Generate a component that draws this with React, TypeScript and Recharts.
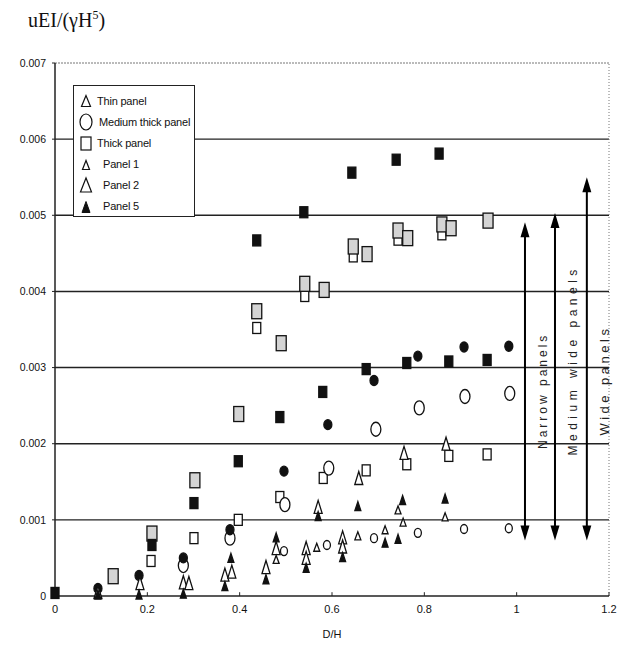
import React from "react";
import { ScatterChart, Scatter, XAxis, YAxis, ReferenceLine, Label } from "recharts";

// axis ticks
const xTicks = [0, 0.2, 0.4, 0.6, 0.8, 1, 1.2];
const yTicks = [0, 0.001, 0.002, 0.003, 0.004, 0.005, 0.006, 0.007];
const gridLevels = [0.001, 0.002, 0.003, 0.004, 0.005, 0.006];

// squares
const filledSquaresLow = [
  { x: 0, y: 0.00004 }, { x: 0.21, y: 0.00067 }, { x: 0.301, y: 0.00122 },
  { x: 0.397, y: 0.00177 }, { x: 0.487, y: 0.00235 }, { x: 0.58, y: 0.00268 },
  { x: 0.674, y: 0.00298 }, { x: 0.762, y: 0.00306 }, { x: 0.853, y: 0.00308 },
  { x: 0.936, y: 0.0031 },
];
const filledSquaresHigh = [
  { x: 0.437, y: 0.00467 }, { x: 0.539, y: 0.00504 }, { x: 0.643, y: 0.00556 },
  { x: 0.739, y: 0.00573 }, { x: 0.832, y: 0.00581 },
];
const shadedSquares = [
  { x: 0.126, y: 0.00026 }, { x: 0.21, y: 0.00082 }, { x: 0.303, y: 0.00152 },
  { x: 0.398, y: 0.00239 }, { x: 0.437, y: 0.00374 }, { x: 0.49, y: 0.00332 },
  { x: 0.541, y: 0.0041 }, { x: 0.583, y: 0.00402 }, { x: 0.646, y: 0.00459 },
  { x: 0.676, y: 0.00449 }, { x: 0.743, y: 0.0048 }, { x: 0.764, y: 0.0047 },
  { x: 0.838, y: 0.00488 }, { x: 0.858, y: 0.00483 }, { x: 0.938, y: 0.00493 },
];
const openSquares = [
  { x: 0.208, y: 0.00046 }, { x: 0.301, y: 0.00076 }, { x: 0.397, y: 0.001 },
  { x: 0.487, y: 0.0013 }, { x: 0.581, y: 0.00155 }, { x: 0.674, y: 0.00165 },
  { x: 0.762, y: 0.00173 }, { x: 0.853, y: 0.00184 }, { x: 0.936, y: 0.00186 },
  { x: 0.437, y: 0.00352 }, { x: 0.541, y: 0.00394 }, { x: 0.646, y: 0.00446 },
  { x: 0.743, y: 0.00468 }, { x: 0.838, y: 0.00475 },
];

// circles
const filledCircles = [
  { x: 0.093, y: 0.0001 }, { x: 0.182, y: 0.00027 }, { x: 0.278, y: 0.0005 },
  { x: 0.379, y: 0.00087 }, { x: 0.496, y: 0.00164 }, { x: 0.591, y: 0.00225 },
  { x: 0.691, y: 0.00283 }, { x: 0.786, y: 0.00315 }, { x: 0.886, y: 0.00327 },
  { x: 0.983, y: 0.00328 },
];
const openCircles = [
  { x: 0.278, y: 0.0004 }, { x: 0.379, y: 0.00076 }, { x: 0.498, y: 0.0012 },
  { x: 0.593, y: 0.00168 }, { x: 0.695, y: 0.00219 }, { x: 0.789, y: 0.00247 },
  { x: 0.888, y: 0.00262 }, { x: 0.985, y: 0.00266 },
];
const smallCircles = [
  { x: 0.496, y: 0.00059 }, { x: 0.589, y: 0.00067 }, { x: 0.691, y: 0.00076 },
  { x: 0.786, y: 0.00083 }, { x: 0.886, y: 0.00088 }, { x: 0.983, y: 0.00089 },
];

// triangles
const openTriangles = [
  { x: 0.093, y: 0.00005 }, { x: 0.184, y: 0.00017 }, { x: 0.278, y: 0.00018 },
  { x: 0.29, y: 0.00017 }, { x: 0.368, y: 0.00028 }, { x: 0.383, y: 0.00032 },
  { x: 0.457, y: 0.00038 }, { x: 0.479, y: 0.00063 }, { x: 0.544, y: 0.00063 },
  { x: 0.544, y: 0.0005 }, { x: 0.57, y: 0.00117 }, { x: 0.623, y: 0.00077 },
  { x: 0.623, y: 0.00065 }, { x: 0.658, y: 0.00155 }, { x: 0.756, y: 0.00188 },
  { x: 0.847, y: 0.002 },
];
const smallTriangles = [
  { x: 0.479, y: 0.00048 }, { x: 0.567, y: 0.00064 }, { x: 0.656, y: 0.00079 },
  { x: 0.715, y: 0.00087 }, { x: 0.743, y: 0.00113 }, { x: 0.754, y: 0.00097 },
  { x: 0.845, y: 0.00104 },
];
const filledTriangles = [
  { x: 0.093, y: 0.00002 }, { x: 0.182, y: 0.00002 }, { x: 0.278, y: 0.00003 },
  { x: 0.368, y: 0.00013 }, { x: 0.381, y: 0.0005 }, { x: 0.457, y: 0.00022 },
  { x: 0.479, y: 0.00077 }, { x: 0.544, y: 0.00037 }, { x: 0.57, y: 0.00105 },
  { x: 0.623, y: 0.00051 }, { x: 0.656, y: 0.00118 }, { x: 0.715, y: 0.0007 },
  { x: 0.743, y: 0.00075 }, { x: 0.753, y: 0.00126 }, { x: 0.845, y: 0.00128 },
];

// width-range arrows
const arrowLabels = ["Narrow panels", "Medium wide panels", "Wide panels"];
const arrowX = [1.018, 1.083, 1.152];
const arrowBottom = [0.00073, 0.00073, 0.00073];
const arrowTop = [0.00491, 0.00503, 0.0055];
const arrowLabelAt = [0.53, 0.45, 0.56];
const arrowSpacing = [3, 4.5, 3.5];

const legendLabels = ["Thin panel", "Medium thick panel", "Thick panel", "Panel 1", "Panel 2", "Panel 5"];

const FONT = "'Liberation Sans', Arial, sans-serif";
const INK = "#111";

const rectShape = (w: number, h: number, fill: string) => (p: any) => (
  <rect x={p.cx - w / 2} y={p.cy - h / 2} width={w} height={h} fill={fill} stroke={INK} strokeWidth={1.3} />
);
const ellipseShape = (rx: number, ry: number, fill: string) => (p: any) => (
  <ellipse cx={p.cx} cy={p.cy} rx={rx} ry={ry} fill={fill} stroke={INK} strokeWidth={1.3} />
);
const triPoints = (cx: number, cy: number, w: number, h: number) =>
  `${cx},${cy - h / 2} ${cx - w / 2},${cy + h / 2} ${cx + w / 2},${cy + h / 2}`;
const triShape = (w: number, h: number, fill: string) => (p: any) => (
  <polygon points={triPoints(p.cx, p.cy, w, h)} fill={fill} stroke={INK} strokeWidth={1.3} strokeLinejoin="miter" />
);

const arrowShape = (i: number) => (p: any) => {
  const x = p.x1;
  const top = Math.min(p.y1, p.y2);
  const bot = Math.max(p.y1, p.y2);
  const ly = top + (bot - top) * arrowLabelAt[i];
  return (
    <g>
      <line x1={x} x2={x} y1={top + 10} y2={bot - 10} stroke="#000" strokeWidth={2} />
      <polygon points={`${x},${top} ${x - 4.5},${top + 15} ${x + 4.5},${top + 15}`} fill="#000" />
      <polygon points={`${x},${bot} ${x - 4.5},${bot - 15} ${x + 4.5},${bot - 15}`} fill="#000" />
      <text
        transform={`translate(${x + 22},${ly}) rotate(-90)`}
        textAnchor="middle"
        fontFamily={FONT}
        fontSize={i === 2 ? 13 : 12}
        letterSpacing={arrowSpacing[i]}
        fill="#222"
      >
        {arrowLabels[i]}
      </text>
    </g>
  );
};

const legendSymbols = [
  <polygon points={triPoints(8, 9, 9, 11)} fill="#fff" stroke={INK} strokeWidth={1.2} />,
  <ellipse cx={8} cy={9} rx={6} ry={8} fill="#fff" stroke={INK} strokeWidth={1.2} />,
  <rect x={3} y={3} width={10} height={13} fill="#fff" stroke={INK} strokeWidth={1.2} />,
  <polygon points={triPoints(8, 10, 7, 9)} fill="#fff" stroke={INK} strokeWidth={1.2} />,
  <polygon points={triPoints(8, 9, 11, 14)} fill="#fff" stroke={INK} strokeWidth={1.2} />,
  <polygon points={triPoints(8, 10, 8, 11)} fill={INK} stroke={INK} strokeWidth={1} />,
];

const fmtY = (v: number) => (v === 0 ? "0" : v.toFixed(3));

export default function App() {
  return (
    <div style={{ position: "absolute", left: 0, top: 0, width: 629, height: 657, background: "#fff" }}>
      <div
        style={{
          position: "absolute", left: 28, top: 8, fontFamily: "'Liberation Serif', serif",
          fontSize: 20, color: "#111", whiteSpace: "nowrap",
        }}
      >
        uEI/(γH<sup style={{ fontSize: 12 }}>5</sup>)
      </div>
      <ScatterChart width={629} height={657} margin={{ top: 63, right: 20, bottom: 0, left: 0 }}>
        <XAxis
          type="number" dataKey="x" domain={[0, 1.2]} ticks={xTicks} height={61}
          axisLine={{ stroke: "#222", strokeWidth: 1.5 }} tickLine={false} tickMargin={3}
          tick={{ fontFamily: FONT, fontSize: 11, fill: INK }}
        >
          <Label value="D/H" position="insideBottom" offset={19} style={{ fontFamily: FONT, fontSize: 11, fill: INK }} />
        </XAxis>
        <YAxis
          type="number" dataKey="y" domain={[0, 0.007]} ticks={yTicks} width={55}
          tickFormatter={fmtY} axisLine={{ stroke: "#222", strokeWidth: 1.5 }}
          tickLine={{ stroke: "#222" }} tickSize={3} tickMargin={6}
          tick={{ fontFamily: FONT, fontSize: 10.5, fill: INK }}
        />
        {gridLevels.map((g) => (
          <ReferenceLine key={g} y={g} stroke="#222" strokeWidth={1.4} />
        ))}
        <ReferenceLine y={0.007} stroke="#777" strokeDasharray="2 1" />
        <ReferenceLine x={1.2} stroke="#777" strokeDasharray="1 2" />
        {xTicks.slice(1).map((t) => (
          <ReferenceLine key={"t" + t} segment={[{ x: t, y: 0 }, { x: t, y: 0.00005 }]} stroke="#222" />
        ))}
        {arrowLabels.map((l, i) => (
          <ReferenceLine
            key={l}
            segment={[{ x: arrowX[i], y: arrowBottom[i] }, { x: arrowX[i], y: arrowTop[i] }]}
            shape={arrowShape(i)}
          />
        ))}
        <Scatter data={openSquares} shape={rectShape(8, 11, "#fff")} isAnimationActive={false} />
        <Scatter data={shadedSquares} shape={rectShape(10, 15, "#d4d4d4")} isAnimationActive={false} />
        <Scatter data={filledSquaresLow} shape={rectShape(8, 11, INK)} isAnimationActive={false} />
        <Scatter data={filledSquaresHigh} shape={rectShape(8, 11, INK)} isAnimationActive={false} />
        <Scatter data={openCircles} shape={ellipseShape(5, 7, "#fff")} isAnimationActive={false} />
        <Scatter data={smallCircles} shape={ellipseShape(3.5, 4.5, "#fff")} isAnimationActive={false} />
        <Scatter data={filledCircles} shape={ellipseShape(4, 5, INK)} isAnimationActive={false} />
        <Scatter data={openTriangles} shape={triShape(8, 13, "#fff")} isAnimationActive={false} />
        <Scatter data={smallTriangles} shape={triShape(6, 8, "#fff")} isAnimationActive={false} />
        <Scatter data={filledTriangles} shape={triShape(6, 9, INK)} isAnimationActive={false} />
      </ScatterChart>
      <div
        style={{
          position: "absolute", left: 73, top: 85, width: 122, height: 132,
          border: "1.3px solid #222", background: "#fff", boxSizing: "border-box",
          paddingTop: 4, paddingLeft: 4,
        }}
      >
        {legendLabels.map((l, i) => (
          <div key={l} style={{ display: "flex", alignItems: "center", height: 21, whiteSpace: "nowrap" }}>
            <svg width={16} height={18} style={{ flex: "none" }}>{legendSymbols[i]}</svg>
            <span
              style={{
                fontFamily: FONT, fontSize: 11, color: INK, letterSpacing: -0.2,
                marginLeft: i === 1 ? 5 : i >= 3 ? 9 : 3,
              }}
            >
              {l}
            </span>
          </div>
        ))}
      </div>
    </div>
  );
}
